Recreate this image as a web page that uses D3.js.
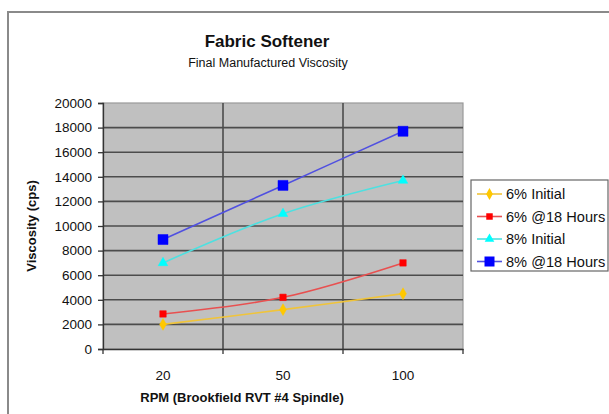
<!DOCTYPE html>
<html>
<head>
<meta charset="utf-8">
<script src="https://cdn.jsdelivr.net/npm/d3@7"></script>
<style>
  body { margin: 0; background: #fff; }
  svg { display: block; font-family: "Liberation Sans", Arial, sans-serif; }
  .axis text { font-size: 13.5px; fill: #111; }
</style>
</head>
<body>
<div id="chart"></div>
<script>
// data
const rpm = ["20", "50", "100"];
const yTicks = [0, 2000, 4000, 6000, 8000, 10000, 12000, 14000, 16000, 18000, 20000];
const initial6 = [2000, 3200, 4500];
const hours6 = [2850, 4200, 7000];
const initial8 = [7000, 11000, 13700];
const hours8 = [8900, 13300, 17700];
const seriesNames = ["6% Initial", "6% @18 Hours", "8% Initial", "8% @18 Hours"];

const width = 609, height = 414;
const margin = { top: 103, right: 146, bottom: 65, left: 103 };

const svg = d3.select("#chart").append("svg")
  .attr("width", width)
  .attr("height", height);

// outer chart frame (runs off the right and bottom edges)
svg.append("rect")
  .attr("x", 8).attr("y", 12)
  .attr("width", 640).attr("height", 440)
  .attr("fill", "#fff")
  .attr("stroke", "#8a8a8a")
  .attr("stroke-width", 2);

const x = d3.scaleBand()
  .domain(rpm)
  .range([margin.left, width - margin.right])
  .padding(0);

const y = d3.scaleLinear()
  .domain([0, 20000])
  .range([height - margin.bottom, margin.top]);

const cx = (d) => x(d) + x.bandwidth() / 2;

// plot area
svg.append("rect")
  .attr("x", margin.left)
  .attr("y", y(20000))
  .attr("width", x.range()[1] - margin.left)
  .attr("height", y(0) - y(20000))
  .attr("fill", "#c0c0c0")
  .attr("stroke", "#999")
  .attr("stroke-width", 1.2);

// gridlines
svg.append("g")
  .selectAll("line")
  .data(yTicks.slice(1, -1))
  .enter()
  .append("line")
  .attr("x1", margin.left)
  .attr("x2", x.range()[1])
  .attr("y1", (d) => y(d))
  .attr("y2", (d) => y(d))
  .attr("stroke", "#4c4c4c")
  .attr("stroke-width", 1.6);

svg.append("g")
  .selectAll("line")
  .data(rpm.slice(1))
  .enter()
  .append("line")
  .attr("x1", (d) => x(d))
  .attr("x2", (d) => x(d))
  .attr("y1", y(20000))
  .attr("y2", y(0))
  .attr("stroke", "#4c4c4c")
  .attr("stroke-width", 1.6);

// y axis
const yAxis = svg.append("g")
  .attr("class", "axis")
  .attr("transform", `translate(${margin.left}, 0)`)
  .call(d3.axisLeft(y).tickValues(yTicks).tickSize(5).tickPadding(6).tickFormat(d3.format("d")));
yAxis.select(".domain").attr("stroke", "#333").attr("stroke-width", 1.3);
yAxis.selectAll(".tick line").attr("stroke", "#333").attr("stroke-width", 1.3);

// x axis: labels centred, ticks on the category boundaries
const xAxis = svg.append("g")
  .attr("class", "axis")
  .attr("transform", `translate(0, ${y(0)})`)
  .call(d3.axisBottom(x).tickSize(0).tickPadding(21).tickSizeOuter(0));
xAxis.select(".domain").attr("stroke", "#333").attr("stroke-width", 1.3);

xAxis.selectAll(".bound")
  .data([...rpm.map((d) => x(d)), x.range()[1]])
  .enter()
  .append("line")
  .attr("class", "bound")
  .attr("x1", (d) => d).attr("x2", (d) => d)
  .attr("y1", 0).attr("y2", 5)
  .attr("stroke", "#333")
  .attr("stroke-width", 1.3);

// titles
svg.append("text")
  .attr("x", 267).attr("y", 47)
  .attr("text-anchor", "middle")
  .attr("font-size", 17)
  .attr("font-weight", "bold")
  .attr("fill", "#111")
  .text("Fabric Softener");

svg.append("text")
  .attr("x", 268).attr("y", 67)
  .attr("text-anchor", "middle")
  .attr("font-size", 12.5)
  .attr("fill", "#111")
  .text("Final Manufactured Viscosity");

svg.append("text")
  .attr("x", 242).attr("y", 402)
  .attr("text-anchor", "middle")
  .attr("font-size", 13)
  .attr("font-weight", "bold")
  .attr("fill", "#111")
  .text("RPM (Brookfield RVT #4 Spindle)");

svg.append("text")
  .attr("transform", `translate(36, ${(y(0) + y(20000)) / 2}) rotate(-90)`)
  .attr("text-anchor", "middle")
  .attr("font-size", 13)
  .attr("font-weight", "bold")
  .attr("fill", "#111")
  .text("Viscosity (cps)");

// series
const series = [
  { name: seriesNames[0], values: initial6, line: "#f0c43a", fill: "#ffc800", shape: d3.symbolDiamond, size: 40 },
  { name: seriesNames[1], values: hours6, line: "#e85050", fill: "#ff0000", shape: d3.symbolSquare, size: 42 },
  { name: seriesNames[2], values: initial8, line: "#4ee0e0", fill: "#00ffff", shape: d3.symbolTriangle, size: 40 },
  { name: seriesNames[3], values: hours8, line: "#5050e0", fill: "#0000ff", shape: d3.symbolSquare, size: 100 },
];

const line = d3.line()
  .x((d, i) => cx(rpm[i]))
  .y((d) => y(d))
  .curve(d3.curveCatmullRom.alpha(0.5));

series.forEach((s) => {
  svg.append("path")
    .datum(s.values)
    .attr("d", line)
    .attr("fill", "none")
    .attr("stroke", s.line)
    .attr("stroke-width", 1.6);

  svg.selectAll(null)
    .data(s.values)
    .enter()
    .append("path")
    .attr("transform", (d, i) => `translate(${cx(rpm[i])}, ${y(d)})`)
    .attr("d", d3.symbol().type(s.shape).size(s.size))
    .attr("fill", s.fill)
    .attr("stroke", s.fill)
    .attr("stroke-width", 0.5);
});

// legend
const legend = svg.append("g").attr("transform", "translate(471, 180)");
legend.append("rect")
  .attr("width", 137).attr("height", 91)
  .attr("fill", "#fff")
  .attr("stroke", "#666")
  .attr("stroke-width", 1.2);

const rows = legend.selectAll(".row")
  .data(series)
  .enter()
  .append("g")
  .attr("class", "row")
  .attr("transform", (d, i) => `translate(0, ${14 + i * 22.5})`);

rows.append("line")
  .attr("x1", 6).attr("x2", 31)
  .attr("stroke", (d) => d.line)
  .attr("stroke-width", 1.6);

rows.append("path")
  .attr("transform", "translate(18.5, 0)")
  .attr("d", (d) => d3.symbol().type(d.shape).size(d.size)())
  .attr("fill", (d) => d.fill);

rows.append("text")
  .attr("x", 35).attr("y", 5)
  .attr("font-size", 14.6)
  .attr("fill", "#111")
  .text((d) => d.name);
</script>
</body>
</html>
